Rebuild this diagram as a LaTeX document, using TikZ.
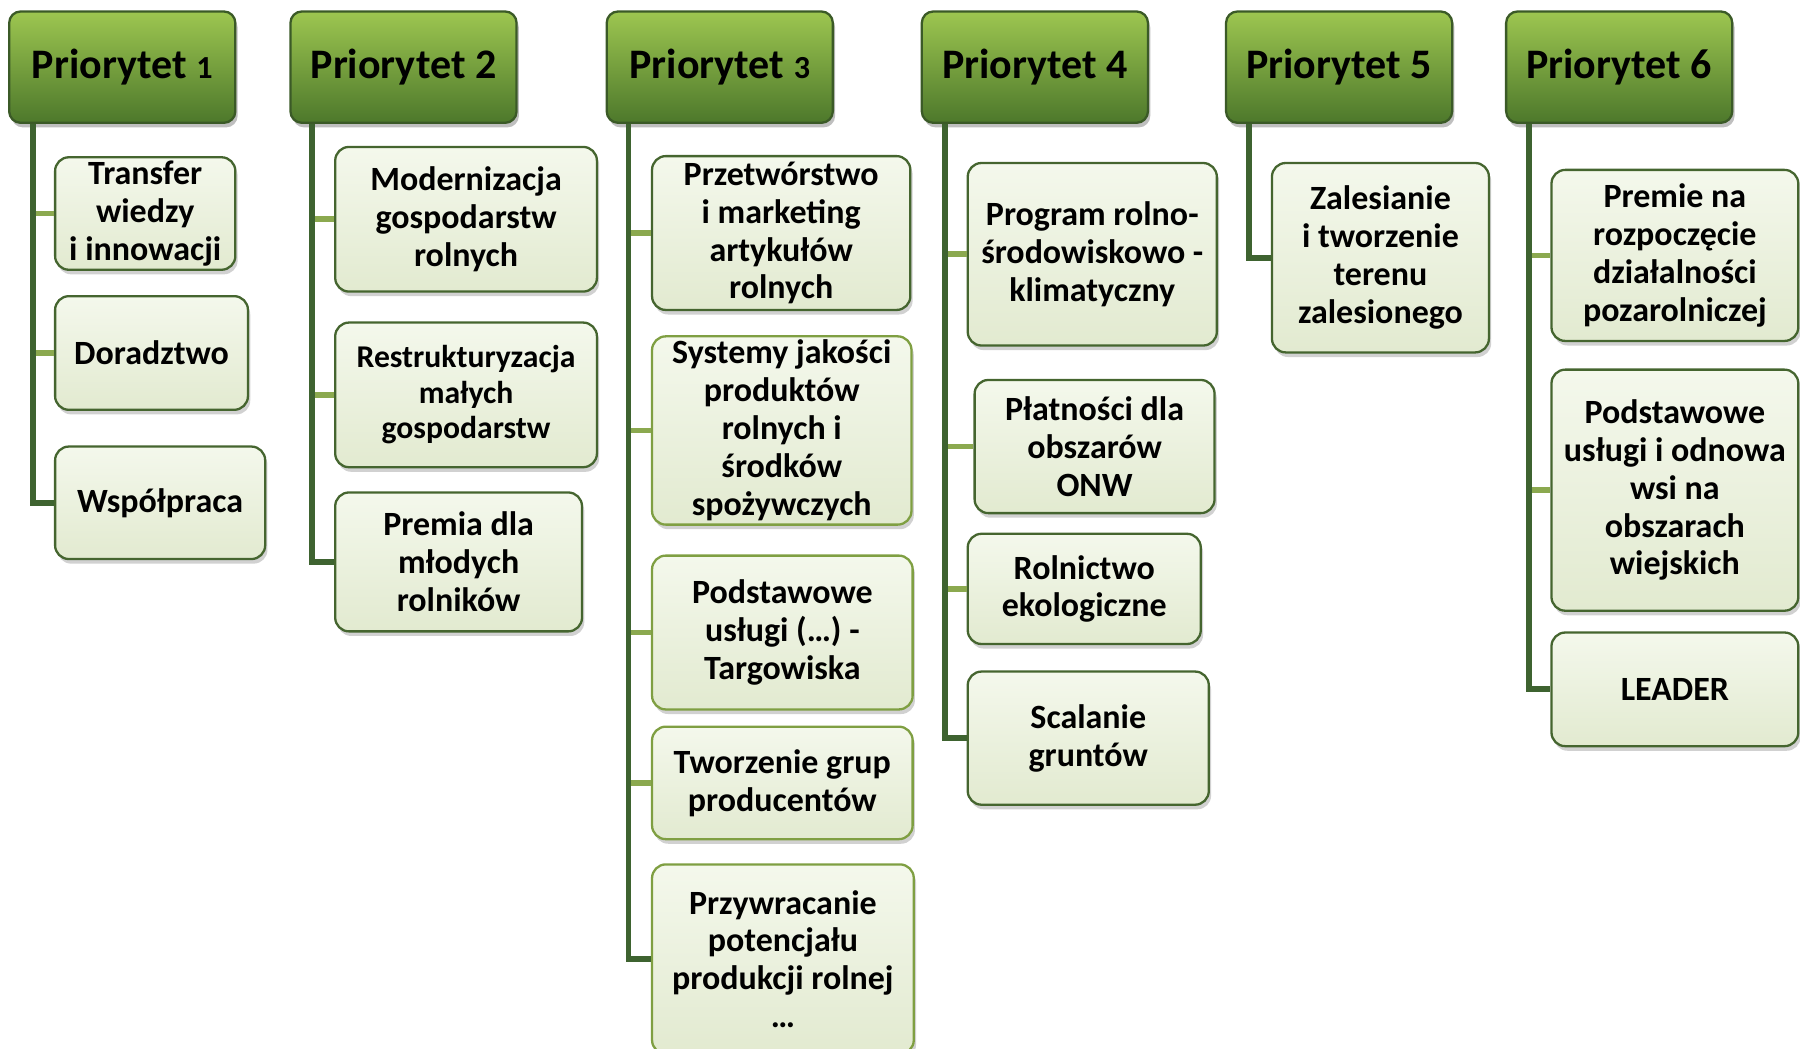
\documentclass[tikz,border=0pt]{standalone}
\usepackage{fontspec}
\setmainfont{Carlito}
\usetikzlibrary{calc,shadows}
\definecolor{hdrtop}{HTML}{9DC650}
\definecolor{hdrbot}{HTML}{4D782B}
\definecolor{hdrline}{HTML}{3B5A27}
\definecolor{chtop}{HTML}{F4F8EC}
\definecolor{chmid}{HTML}{EEF4E2}
\definecolor{chbot}{HTML}{E2EAD0}
\definecolor{chline}{HTML}{45652F}
\definecolor{chlinel}{HTML}{7F9F42}
\definecolor{trunkc}{HTML}{3E6330}
\definecolor{stubc}{HTML}{8BA94F}
\begin{document}
\begin{tikzpicture}[x=0.5pt,y=-0.5pt,
  hdr/.style={rectangle, rounded corners=5pt, draw=hdrline, line width=1pt,
    top color=hdrtop, bottom color=hdrbot, minimum width=98.5pt, minimum height=48.5pt,
    inner sep=0pt, font=\fontsize{18.3}{20}\selectfont\bfseries,
    drop shadow={shadow xshift=1pt, shadow yshift=-2pt, opacity=0.25, fill=black}},
  chd/.style={rectangle, rounded corners=6pt, draw=chline, line width=1pt,
    top color=chtop, middle color=chmid, bottom color=chbot,
    align=center, inner sep=0pt, font=\fontsize{14.8}{16.5}\selectfont\bfseries,
    drop shadow={shadow xshift=1pt, shadow yshift=-2pt, opacity=0.18, fill=black}},
  chdl/.style={chd, draw=chlinel},
  trunk/.style={draw=trunkc, line width=2.5pt, line join=miter},
  stub/.style={draw=stubc, line width=2.5pt}]
\useasboundingbox (0,0) rectangle (1568,913);
% headers
\node[hdr] (h1) at (106.5,58.5) {Priorytet {\fontsize{14}{14}\selectfont 1}};
\node[hdr] (h2) at (351.5,58.5) {Priorytet 2};
\node[hdr] (h3) at (627,58.5) {Priorytet {\fontsize{14}{14}\selectfont 3}};
\node[hdr] (h4) at (901.5,58.5) {Priorytet 4};
\node[hdr] (h5) at (1166.5,58.5) {Priorytet 5};
\node[hdr] (h6) at (1410.5,58.5) {Priorytet 6};
% priority 1
\node[chd, minimum width=78.5pt, minimum height=49pt] (c11) at (126.5,186) {Transfer\\wiedzy\\i innowacji};
\node[chd, minimum width=84pt, minimum height=49.5pt] (c12) at (132,307.5) {Doradztwo};
\node[chd, minimum width=91.5pt, minimum height=49pt] (c13) at (139.5,438) {Współpraca};
% priority 2
\node[chd, minimum width=114pt, minimum height=63pt] (c21) at (406,191) {Modernizacja\\gospodarstw\\rolnych};
\node[chd, minimum width=114pt, minimum height=63pt, font=\fontsize{13.8}{15.5}\selectfont\bfseries] (c22) at (406,344) {Restrukturyzacja\\małych\\gospodarstw};
\node[chd, minimum width=107.5pt, minimum height=60.5pt] (c23) at (399.5,489.5) {Premia dla\\młodych\\rolników};
% priority 3
\node[chd, minimum width=112.5pt, minimum height=67pt] (c31) at (680.5,203) {Przetwórstwo\\i marketing\\artykułów\\rolnych};
\node[chdl, minimum width=113pt, minimum height=82pt] (c32) at (681,375) {Systemy jakości\\produktów\\rolnych i\\środków\\spożywczych};
\node[chdl, minimum width=113.5pt, minimum height=67pt] (c33) at (681.5,551) {Podstawowe\\usługi (…) -\\Targowiska};
\node[chdl, minimum width=113.5pt, minimum height=49pt] (c34) at (681.5,682) {Tworzenie grup\\producentów};
\node[chdl, minimum width=114pt, minimum height=82.5pt] (c35) at (682,835.5) {Przywracanie\\potencjału\\produkcji rolnej\\…};
% priority 4
\node[chd, minimum width=108.5pt, minimum height=79.5pt] (c41) at (951.5,221.5) {Program rolno-\\środowiskowo -\\klimatyczny};
\node[chd, minimum width=104.5pt, minimum height=58pt] (c42) at (953.5,389) {Płatności dla\\obszarów\\ONW};
\node[chd, minimum width=101.5pt, minimum height=48pt] (c43) at (944.5,513) {Rolnictwo\\ekologiczne};
\node[chd, minimum width=105pt, minimum height=58pt] (c44) at (948,643) {Scalanie\\gruntów};
% priority 5
\node[chd, minimum width=94.5pt, minimum height=82.5pt] (c51) at (1202.5,224.5) {Zalesianie\\i tworzenie\\terenu\\zalesionego};
% priority 6
\node[chd, minimum width=107.5pt, minimum height=74.5pt] (c61) at (1459,222.5) {Premie na\\rozpoczęcie\\działalności\\pozarolniczej};
\node[chd, minimum width=107.5pt, minimum height=105pt] (c62) at (1459,427) {Podstawowe\\usługi i odnowa\\wsi na\\obszarach\\wiejskich};
\node[chd, minimum width=107.5pt, minimum height=49.5pt] (c63) at (1459,600.5) {LEADER};
% trunk coordinates
\coordinate (t1) at ($(h1.south west)+(22,0)$);
\coordinate (t2) at ($(h2.south west)+(20,0)$);
\coordinate (t3) at ($(h3.south west)+(20,0)$);
\coordinate (t4) at ($(h4.south west)+(21,0)$);
\coordinate (t5) at ($(h5.south west)+(21,0)$);
\coordinate (t6) at ($(h6.south west)+(21,0)$);
% stubs
\foreach \t/\c in {t1/c11,t1/c12,t2/c21,t2/c22,t3/c31,t3/c32,t3/c33,t3/c34,t4/c41,t4/c42,t4/c43,t6/c61,t6/c62}
  \draw[stub] (\t |- \c.west) -- (\c.west);
% trunks
\draw[trunk] (t1) |- (c13.west);
\draw[trunk] (t2) |- (c23.west);
\draw[trunk] (t3) |- (c35.west);
\draw[trunk] (t4) |- (c44.west);
\draw[trunk] (t5) |- (c51.west);
\draw[trunk] (t6) |- (c63.west);
\end{tikzpicture}
\end{document}
